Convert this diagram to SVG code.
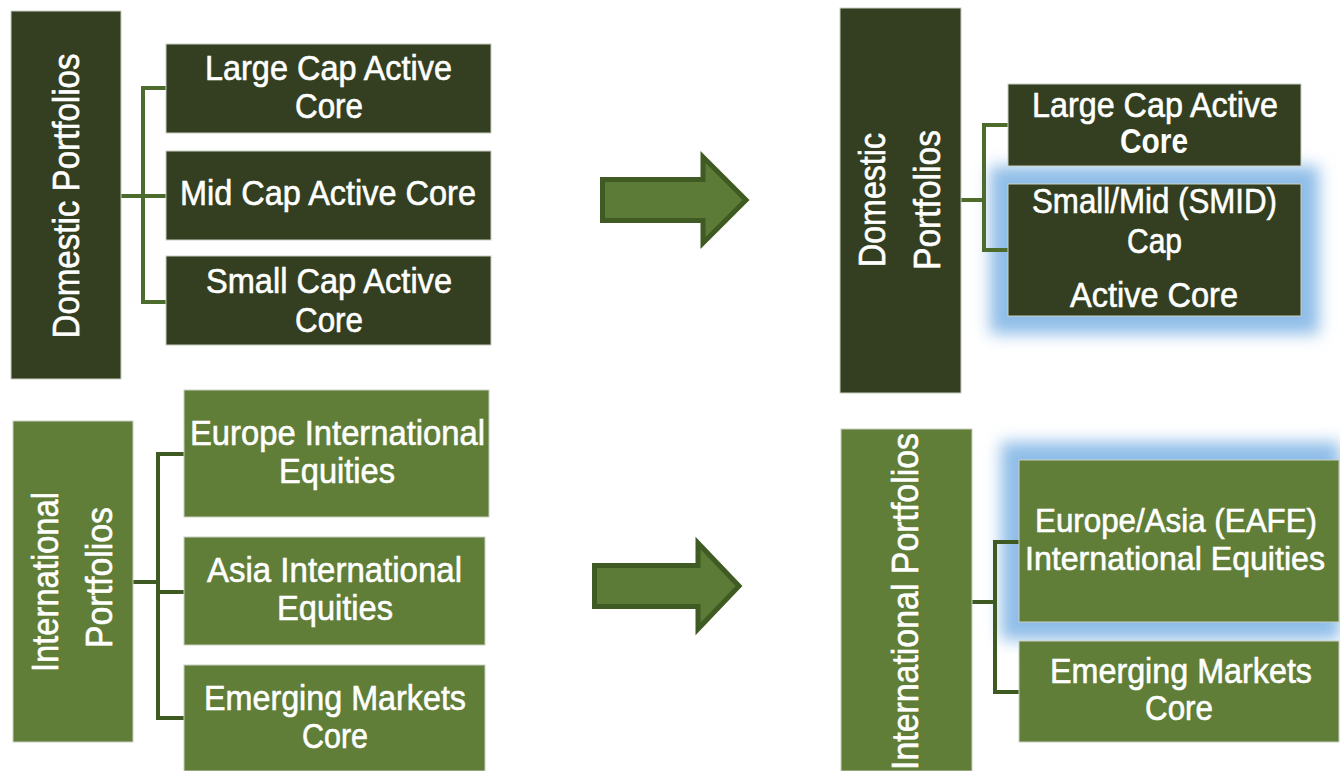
<svg xmlns="http://www.w3.org/2000/svg" width="1340" height="771" viewBox="0 0 1340 771">
  <defs>
    <filter id="glow" x="-30%" y="-40%" width="160%" height="180%">
      <feGaussianBlur stdDeviation="8"/>
    </filter>
    <style>
      .dark { fill: #333f20; stroke: #c9cfc2; stroke-width: 1; }
      .light { fill: #607e38; stroke: #c9cfc2; stroke-width: 1; }
      .lbl { font-family: "Liberation Sans", Arial, sans-serif; font-size: 35px; fill: #ffffff; stroke: #ffffff; stroke-width: 0.6; text-anchor: middle; }
      .vlbl { font-family: "Liberation Sans", Arial, sans-serif; font-size: 37px; fill: #ffffff; stroke: #ffffff; stroke-width: 0.6; text-anchor: middle; }
      .bold { font-weight: bold; stroke-width: 0; }
      .tight { font-size: 33px; }
      .link-a { fill: none; stroke: #4d6b2c; stroke-width: 4; stroke-linejoin: miter; }
      .link-b { fill: none; stroke: #3e5a22; stroke-width: 4; stroke-linejoin: miter; }
      .arrow { fill: #5b7b36; stroke: #3f5b23; stroke-width: 5; stroke-linejoin: miter; }
      .halo { fill: #8fbde8; filter: url(#glow); }
    </style>
  </defs>

  <rect width="1340" height="771" fill="#ffffff"/>

  <!-- highlight halos behind the new boxes -->
  <rect class="halo" x="990" y="166" width="329" height="168"/>
  <rect class="halo" x="1001" y="442" width="339" height="198"/>

  <!-- connectors -->
  <g id="connectors">
    <path class="link-a" d="M121,196 H143 M166,88 H143 V302 H166 M143,196 H166"/>
    <path class="link-b" d="M133,582 H158 M184,454 H158 V718 H184 M158,592 H184"/>
    <path class="link-a" d="M961,200 H984 M1008,125 H984 V250 H1008"/>
    <path class="link-b" d="M972,602 H995 M1019,542 H995 V692 H1019"/>
    <polygon id="arrow-top" class="arrow" points="602.5,179.5 703,179.5 703,157 746,200 703,243 703,220.5 602.5,220.5"/>
    <polygon id="arrow-bottom" class="arrow" points="594.5,565.5 698,565.5 698,543 739,586 698,629 698,606.5 594.5,606.5"/>
  </g>

  <!-- current domestic line-up -->
  <g id="domestic-left">
    <rect class="dark" x="11" y="11" width="110" height="368"/>
    <text class="vlbl" transform="translate(79,196) rotate(-90)" textLength="285" lengthAdjust="spacingAndGlyphs">Domestic Portfolios</text>
  </g>
  <g id="large-cap-left">
    <rect class="dark" x="166" y="44" width="325" height="89"/>
    <text class="lbl" x="328.5" y="80" textLength="247" lengthAdjust="spacingAndGlyphs">Large Cap Active</text>
    <text class="lbl" x="329" y="118" textLength="68" lengthAdjust="spacingAndGlyphs">Core</text>
  </g>
  <g id="mid-cap-left">
    <rect class="dark" x="166" y="151" width="325" height="89"/>
    <text class="lbl" x="328" y="205" textLength="296" lengthAdjust="spacingAndGlyphs">Mid Cap Active Core</text>
  </g>
  <g id="small-cap-left">
    <rect class="dark" x="166" y="256" width="325" height="89"/>
    <text class="lbl" x="329" y="293" textLength="246" lengthAdjust="spacingAndGlyphs">Small Cap Active</text>
    <text class="lbl" x="329" y="332" textLength="68" lengthAdjust="spacingAndGlyphs">Core</text>
  </g>

  <!-- current international line-up -->
  <g id="international-left">
    <rect class="light" x="13" y="421" width="120" height="321"/>
    <text class="vlbl" transform="translate(58,582) rotate(-90)" textLength="180" lengthAdjust="spacingAndGlyphs">International</text>
    <text class="vlbl" transform="translate(112,577.5) rotate(-90)" textLength="141" lengthAdjust="spacingAndGlyphs">Portfolios</text>
  </g>
  <g id="europe-left">
    <rect class="light" x="184" y="390" width="305" height="127"/>
    <text class="lbl" x="337.5" y="445" textLength="295" lengthAdjust="spacingAndGlyphs">Europe International</text>
    <text class="lbl" x="337" y="483" textLength="116" lengthAdjust="spacingAndGlyphs">Equities</text>
  </g>
  <g id="asia-left">
    <rect class="light" x="184" y="537" width="301" height="108"/>
    <text class="lbl" x="334.5" y="582" textLength="255" lengthAdjust="spacingAndGlyphs">Asia International</text>
    <text class="lbl" x="335" y="620" textLength="116" lengthAdjust="spacingAndGlyphs">Equities</text>
  </g>
  <g id="emerging-left">
    <rect class="light" x="184" y="665" width="301" height="106"/>
    <text class="lbl" x="335" y="710" textLength="262" lengthAdjust="spacingAndGlyphs">Emerging Markets</text>
    <text class="lbl" x="335" y="748" textLength="66" lengthAdjust="spacingAndGlyphs">Core</text>
  </g>

  <!-- new domestic line-up -->
  <g id="domestic-right">
    <rect class="dark" x="840" y="8" width="121" height="385"/>
    <text class="vlbl" transform="translate(885,200) rotate(-90)" textLength="134" lengthAdjust="spacingAndGlyphs">Domestic</text>
    <text class="vlbl" transform="translate(940,200) rotate(-90)" textLength="140" lengthAdjust="spacingAndGlyphs">Portfolios</text>
  </g>
  <g id="large-cap-right">
    <rect class="dark" x="1008" y="84" width="293" height="82"/>
    <text class="lbl" x="1155" y="117" textLength="246" lengthAdjust="spacingAndGlyphs">Large Cap Active</text>
    <text class="lbl bold" x="1154" y="153" textLength="68" lengthAdjust="spacingAndGlyphs">Core</text>
  </g>
  <g id="smid-cap-right">
    <rect class="dark" x="1008" y="184" width="293" height="132"/>
    <text class="lbl" x="1154.5" y="213" textLength="245" lengthAdjust="spacingAndGlyphs">Small/Mid (SMID)</text>
    <text class="lbl" x="1154.5" y="253" textLength="55" lengthAdjust="spacingAndGlyphs">Cap</text>
    <text class="lbl" x="1154" y="307" textLength="168" lengthAdjust="spacingAndGlyphs">Active Core</text>
  </g>

  <!-- new international line-up -->
  <g id="international-right">
    <rect class="light" x="841" y="429" width="131" height="342"/>
    <text class="vlbl" transform="translate(918,433) rotate(-90)" style="text-anchor:end" textLength="337" lengthAdjust="spacingAndGlyphs">International Portfolios</text>
  </g>
  <g id="eafe-right">
    <rect class="light" x="1019" y="460" width="320" height="162"/>
    <text class="lbl tight" x="1176" y="532" textLength="282" lengthAdjust="spacingAndGlyphs">Europe/Asia (EAFE)</text>
    <text class="lbl tight" x="1175" y="570" textLength="300" lengthAdjust="spacingAndGlyphs">International Equities</text>
  </g>
  <g id="emerging-right">
    <rect class="light" x="1019" y="641" width="320" height="101"/>
    <text class="lbl" x="1181" y="683" textLength="262" lengthAdjust="spacingAndGlyphs">Emerging Markets</text>
    <text class="lbl" x="1179" y="720" textLength="68" lengthAdjust="spacingAndGlyphs">Core</text>
  </g>
</svg>
